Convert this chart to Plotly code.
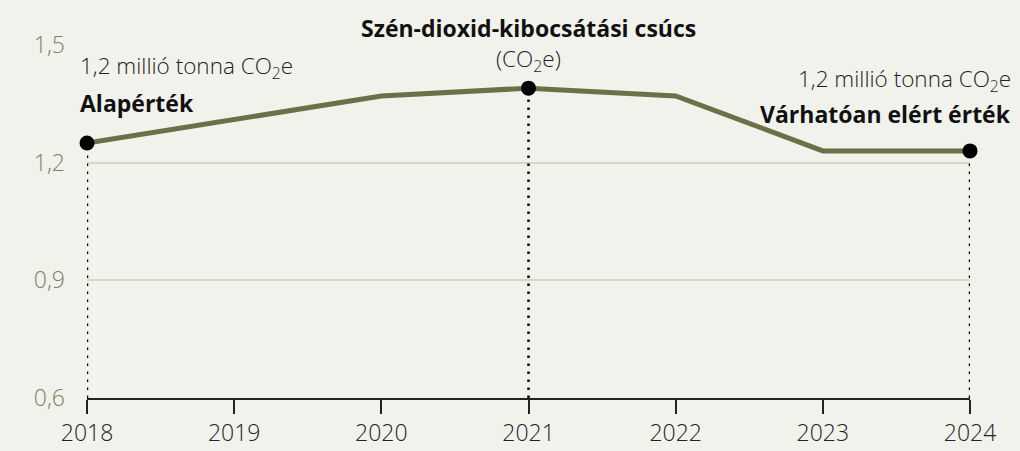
import plotly.graph_objects as go

years = [2018, 2019, 2020, 2021, 2022, 2023, 2024]
emissions = [1.25, 1.31, 1.37, 1.39, 1.37, 1.23, 1.23]
highlight_years = [2018, 2021, 2024]
y_ticks = [0.6, 0.9, 1.2, 1.5]
y_tick_labels = ["0,6", "0,9", "1,2", "1,5"]

BG = "#f2f2ed"
LINE = "#6b7048"
GRID = "#d6d8c4"
TICKC = "#7d8160"
FONT = "Open Sans"

fig = go.Figure()

# dotted drop lines
for yr in highlight_years:
    v = emissions[years.index(yr)]
    fig.add_trace(go.Scatter(x=[yr, yr], y=[0.6, v], mode="lines",
                             line=dict(color="black", width=2.5, dash="2.5px,5.5px"),
                             hoverinfo="skip", showlegend=False, cliponaxis=False))

fig.add_trace(go.Scatter(x=years, y=emissions, mode="lines",
                         line=dict(color=LINE, width=5), showlegend=False,
                         cliponaxis=False))

hv = [emissions[years.index(y)] for y in highlight_years]
fig.add_trace(go.Scatter(x=highlight_years, y=hv, mode="markers",
                         marker=dict(color="black", size=15), showlegend=False,
                         cliponaxis=False))

fig.update_layout(
    width=1020, height=451,
    paper_bgcolor=BG, plot_bgcolor=BG,
    margin=dict(l=87, r=50, t=45, b=53),
    font=dict(family=FONT, size=20, color="#222", weight=300),
    xaxis=dict(range=[2018, 2024], tickvals=years, ticktext=[str(y) for y in years],
               showgrid=False, zeroline=False, showline=True, linecolor="#222",
               linewidth=1.5, ticks="outside", ticklen=14, tickcolor="#222",
               tickwidth=1.5, automargin=False, ticklabelstandoff=0,
               tickfont=dict(size=23, color="#222", family=FONT, weight=300)),
    yaxis=dict(range=[0.6, 1.5], tickvals=y_ticks, ticktext=y_tick_labels,
               showgrid=True, gridcolor=GRID, gridwidth=1.5, zeroline=False,
               showline=False, ticks="", ticklabelstandoff=21, automargin=False,
               tickfont=dict(size=23, color=TICKC, family=FONT, weight=300)),
)

REG = dict(size=22.5, color="#222", family=FONT, weight=300)
BOLD = dict(size=23, color="#111", family=FONT, weight=800)

anns = [
    dict(x=2018, y=1.444, yref="y", text="1,2 millió tonna CO<sub>2</sub>e",
         xanchor="left", xshift=-9, font=REG),
    dict(x=2018, y=1.352, yref="y", text="<b>Alapérték</b>", xanchor="left",
         xshift=-9, font=BOLD),
    dict(x=2021, y=1.048, yref="paper", text="<b>Szén-dioxid-kibocsátási csúcs</b>",
         xanchor="center", font=BOLD, bgcolor=BG, borderpad=6),
    dict(x=2021, y=1.462, yref="y", text="(CO<sub>2</sub>e)", xanchor="center", font=REG),
    dict(x=2024, y=1.412, yref="y", text="1,2 millió tonna CO<sub>2</sub>e",
         xanchor="right", xshift=43, font=REG),
    dict(x=2024, y=1.325, yref="y", text="<b>Várhatóan elért érték</b>",
         xanchor="right", xshift=43, font=BOLD),
]
for a in anns:
    a.update(xref="x", yanchor="middle", showarrow=False)
fig.update_layout(annotations=anns)

fig.write_html("out.html", config={"displayModeBar": False},
               post_script="document.body.style.margin='0';document.body.style.padding='0';")
